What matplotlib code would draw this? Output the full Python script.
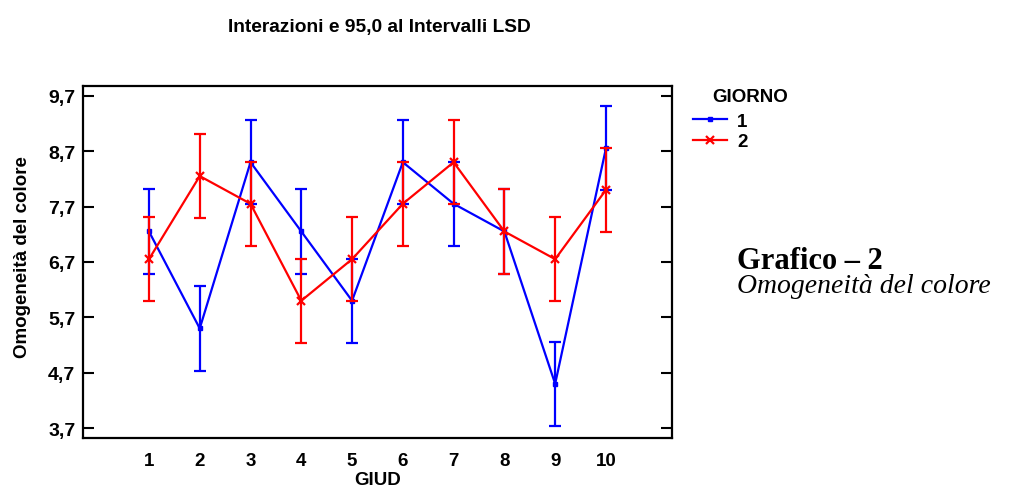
import matplotlib
matplotlib.use("Agg")
import matplotlib.pyplot as plt
import numpy as np

# Judges (GIUD) and mean scores per day (GIORNO) with LSD half-width
giud = [1, 2, 3, 4, 5, 6, 7, 8, 9, 10]
giorno1 = [7.25, 5.5, 8.5, 7.25, 6.0, 8.5, 7.75, 7.25, 4.5, 8.75]
giorno2 = [6.75, 8.25, 7.75, 6.0, 6.75, 7.75, 8.5, 7.25, 6.75, 8.0]
lsd_half = 0.76
yticks = [3.7, 4.7, 5.7, 6.7, 7.7, 8.7, 9.7]
ytick_labels = ["3,7", "4,7", "5,7", "6,7", "7,7", "8,7", "9,7"]

plt.rcParams["font.family"] = ["Liberation Sans", "DejaVu Sans"]
plt.rcParams["font.weight"] = "bold"

fig = plt.figure(figsize=(10.32, 4.89), dpi=100)
ax = fig.add_axes([0.0804, 0.102, 0.5707, 0.720])

fs = 13.5
c1 = ax.errorbar(giud, giorno1, yerr=lsd_half, color="#0000ff", lw=1.6,
                 marker="s", ms=3.5, capsize=4, capthick=1.6, elinewidth=1.6,
                 label="1", zorder=3)
c2 = ax.errorbar(giud, giorno2, yerr=lsd_half, color="#ff0000", lw=1.6,
                 marker="x", ms=6, mew=1.6, capsize=4, capthick=1.6,
                 elinewidth=1.6, label="2", zorder=4)

ax.set_xlim(-0.3, 11.3)
ax.set_ylim(3.52, 9.875)
ax.set_xticks(giud)
ax.set_xticklabels([str(g) for g in giud], fontsize=fs, fontweight="bold")
ax.set_yticks(yticks)
ax.set_yticklabels(ytick_labels, fontsize=14, fontweight="bold")
ax.tick_params(axis="x", length=0, pad=10)
ax.tick_params(axis="y", direction="in", length=8, width=1.5, pad=5.5,
               right=True)
for sp in ax.spines.values():
    sp.set_linewidth(1.6)

ax.set_xlabel("GIUD", fontsize=fs, fontweight="bold")
ax.xaxis.set_label_coords(0.5, -0.093)
ax.set_ylabel("Omogeneità del colore", fontsize=fs, fontweight="bold")
ax.yaxis.set_label_coords(-0.088, 0.518)

fig.text(0.368, 0.943, "Interazioni e 95,0 al Intervalli LSD",
         ha="center", va="center", fontsize=13.8, fontweight="bold")

# Legend: line handles only, title placed separately
leg = ax.legend([c1.lines[0], c2.lines[0]], ["1", "2"],
                loc="upper left", bbox_to_anchor=(1.036, 0.925),
                frameon=False, fontsize=fs, handlelength=1.8,
                handletextpad=0.55, labelspacing=0.18, borderaxespad=0,
                borderpad=0)
fig.text(0.690, 0.800, "GIORNO", fontsize=fs, fontweight="bold",
         ha="left", va="center")

fig.text(0.714, 0.465, "Grafico – 2", fontsize=22, fontweight="bold",
         family="Liberation Serif", ha="left", va="center")
fig.text(0.714, 0.415, "Omogeneità del colore", fontsize=20, style="italic",
         fontweight="normal", family="Liberation Serif", ha="left",
         va="center")

fig.savefig("out.png", dpi=100)
